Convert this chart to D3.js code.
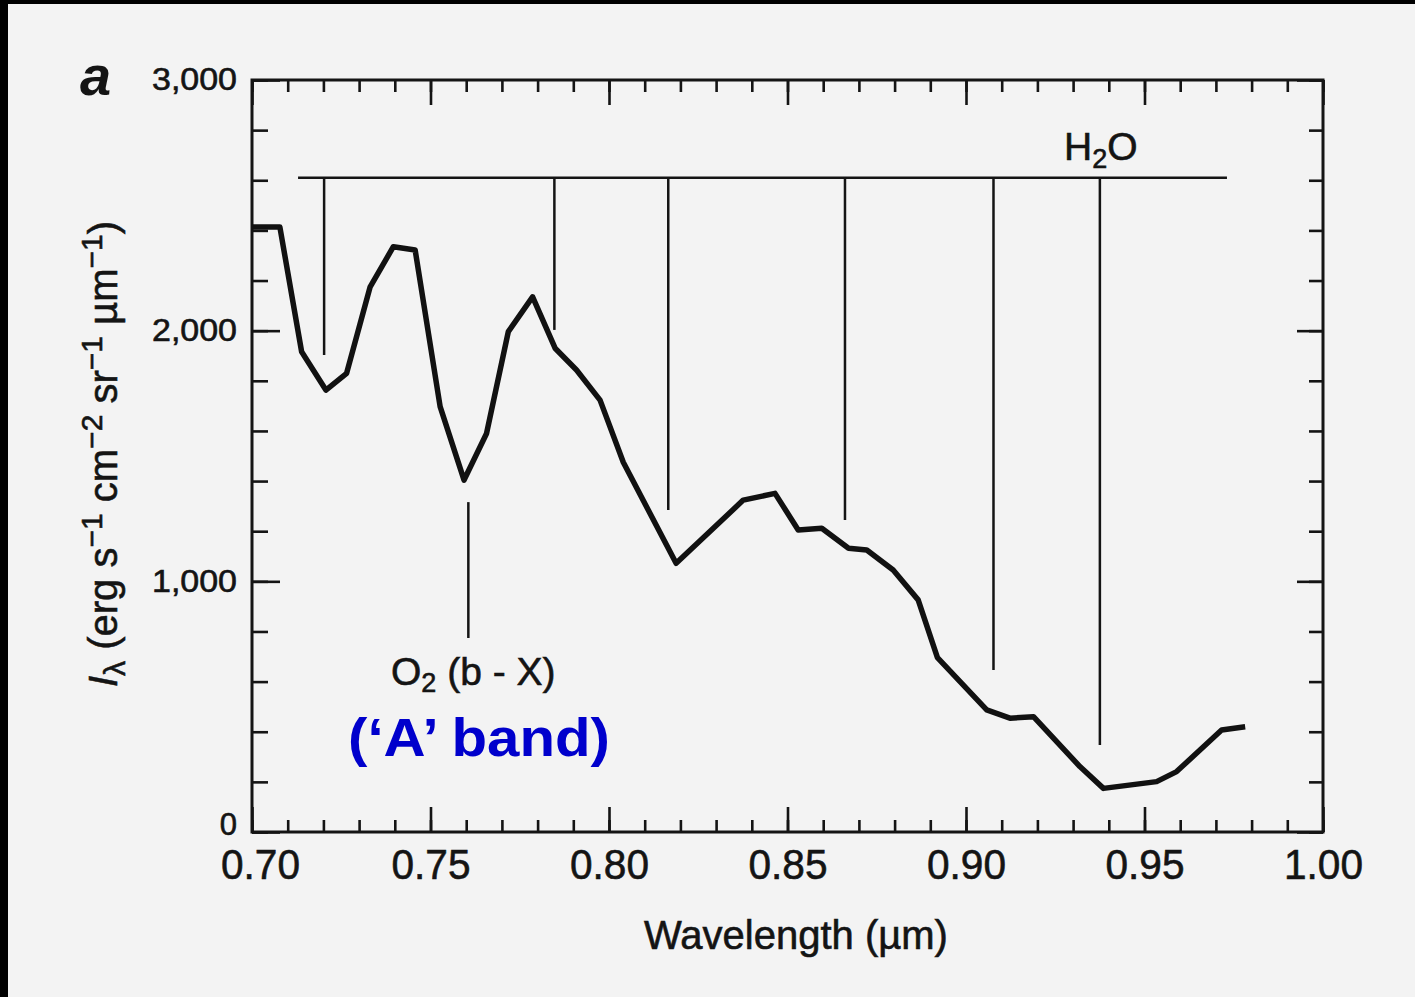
<!DOCTYPE html>
<html>
<head>
<meta charset="utf-8">
<script src="https://cdn.jsdelivr.net/npm/d3@7"></script>
<style>
  html, body { margin: 0; padding: 0; background: #f3f3f3; }
  svg { display: block; }
  text { font-family: "Liberation Sans", Arial, Helvetica, sans-serif; fill: #141414; }
  text.ink { stroke: #141414; stroke-width: 0.6px; }
</style>
</head>
<body>
<svg id="chart" width="1415" height="997"></svg>
<script>
// Spectrum: wavelength (µm) and intensity I_λ (erg s^-1 cm^-2 sr^-1 µm^-1)
const wavelength = [0.700, 0.7078, 0.7139, 0.7207, 0.7265, 0.7331, 0.7396, 0.7457, 0.7527, 0.7594,
                    0.7657, 0.7718, 0.7786, 0.7849, 0.7909, 0.7975, 0.8040, 0.8188, 0.8376, 0.8465,
                    0.8530, 0.8596, 0.8671, 0.8722, 0.8796, 0.8866, 0.8920, 0.9058, 0.9123, 0.9189,
                    0.9319, 0.9385, 0.9534, 0.9590, 0.9716, 0.9782];
const intensity  = [2414, 2414, 1916, 1763, 1830, 2175, 2335, 2322, 1697, 1404,
                    1590, 1996, 2135, 1930, 1843, 1723, 1475, 1072, 1324, 1351,
                    1205, 1212, 1132, 1125, 1045, 926, 696, 487, 454, 460,
                    261, 174, 201, 241, 407, 420];

// H2O absorption band markers
const h2oBandLevel = 2610;
const h2oBarRange = [0.7129, 0.9731];
const h2oBands = [0.7202, 0.7847, 0.8166, 0.8661, 0.9077, 0.9375];
const h2oBandEnds = [1903, 2003, 1285, 1245, 646, 347];

// O2 (b - X) 'A' band marker
const o2Band = 0.7606;
const o2Range = [1316, 774];

// Axis ticks
const xMajorTicks = [0.70, 0.75, 0.80, 0.85, 0.90, 0.95, 1.00];
const xTickLabels = ["0.70", "0.75", "0.80", "0.85", "0.90", "0.95", "1.00"];
const xMinorTicks = d3.range(0, 31).map(i => +(0.70 + i * 0.01).toFixed(2));
const yMajorTicks = [0, 1000, 2000, 3000];
const yTickLabels = ["0", "1,000", "2,000", "3,000"];
const yMinorTicks = d3.range(0, 16).map(i => i * 200);

const svg = d3.select("#chart");
const W = 1415, H = 997;
const plotLeft = 252, plotRight = 1323, plotTop = 80, plotBottom = 832;

// paper and scan edges
svg.append("rect").attr("width", W).attr("height", H).attr("fill", "#f3f3f3");
svg.append("rect").attr("x", 0).attr("y", 0).attr("width", 8).attr("height", H).attr("fill", "#000");
svg.append("rect").attr("x", 0).attr("y", 0).attr("width", W).attr("height", 4).attr("fill", "#000");

const x = d3.scaleLinear().domain([0.70, 1.00]).range([plotLeft, plotRight]);
const y = d3.scaleLinear().domain([0, 3000]).range([plotBottom, plotTop]);

function styleAxis(g) {
  g.select(".domain").remove();
  g.selectAll(".tick line").attr("stroke", "#141414").attr("stroke-width", 2.6);
}

// bottom axis: minor + major (labelled)
svg.append("g").attr("transform", `translate(0,${plotBottom})`)
  .call(d3.axisBottom(x).tickValues(xMinorTicks).tickSize(-12).tickFormat(""))
  .call(styleAxis);
const xb = svg.append("g").attr("transform", `translate(0,${plotBottom})`)
  .call(d3.axisBottom(x).tickValues(xMajorTicks).tickSize(-25).tickPadding(17)
        .tickFormat((d, i) => xTickLabels[i]))
  .call(styleAxis);
xb.selectAll("text").attr("class", "ink").attr("font-size", 42).attr("fill", "#141414")
  .attr("font-family", "Liberation Sans, Arial, sans-serif")
  .attr("textLength", 79).attr("lengthAdjust", "spacingAndGlyphs")
  .attr("dx", (d, i) => i === 0 ? 8 : 0);

// top axis
svg.append("g").attr("transform", `translate(0,${plotTop})`)
  .call(d3.axisTop(x).tickValues(xMinorTicks).tickSize(-12).tickFormat(""))
  .call(styleAxis);
svg.append("g").attr("transform", `translate(0,${plotTop})`)
  .call(d3.axisTop(x).tickValues(xMajorTicks).tickSize(-25).tickFormat(""))
  .call(styleAxis);

// left axis
svg.append("g").attr("transform", `translate(${plotLeft},0)`)
  .call(d3.axisLeft(y).tickValues(yMinorTicks).tickSize(-16).tickFormat(""))
  .call(styleAxis);
const yl = svg.append("g").attr("transform", `translate(${plotLeft},0)`)
  .call(d3.axisLeft(y).tickValues(yMajorTicks).tickSize(-28).tickPadding(15)
        .tickFormat((d, i) => yTickLabels[i]))
  .call(styleAxis);
yl.selectAll("text").attr("class", "ink").attr("font-size", 31).attr("fill", "#141414")
  .attr("font-family", "Liberation Sans, Arial, sans-serif")
  .each(function (d, i) {
    const t = d3.select(this);
    if (yTickLabels[i].length > 1) t.attr("textLength", 85).attr("lengthAdjust", "spacingAndGlyphs");
    else t.attr("y", -7);
  });

// right axis
svg.append("g").attr("transform", `translate(${plotRight},0)`)
  .call(d3.axisRight(y).tickValues(yMinorTicks).tickSize(-14).tickFormat(""))
  .call(styleAxis);
svg.append("g").attr("transform", `translate(${plotRight},0)`)
  .call(d3.axisRight(y).tickValues(yMajorTicks).tickSize(-26).tickFormat(""))
  .call(styleAxis);

// plot frame
svg.append("rect")
  .attr("x", x(0.70)).attr("y", y(3000))
  .attr("width", x(1.00) - x(0.70)).attr("height", y(0) - y(3000))
  .attr("fill", "none").attr("stroke", "#141414").attr("stroke-width", 3);

// H2O band bar and drop lines
const markG = svg.append("g").attr("stroke", "#141414").attr("stroke-width", 2.5);
markG.append("line")
  .attr("x1", x(h2oBarRange[0])).attr("x2", x(h2oBarRange[1]))
  .attr("y1", y(h2oBandLevel)).attr("y2", y(h2oBandLevel));
markG.selectAll("line.band").data(h2oBands).join("line").attr("class", "band")
  .attr("x1", d => x(d)).attr("x2", d => x(d))
  .attr("y1", y(h2oBandLevel)).attr("y2", (d, i) => y(h2oBandEnds[i]));

// O2 marker
markG.append("line")
  .attr("x1", x(o2Band)).attr("x2", x(o2Band))
  .attr("y1", y(o2Range[0])).attr("y2", y(o2Range[1]));

// spectrum curve
const pts = wavelength.map((w, i) => [w, intensity[i]]);
svg.append("path")
  .datum(pts)
  .attr("fill", "none")
  .attr("stroke", "#111")
  .attr("stroke-width", 5.5)
  .attr("stroke-linejoin", "round")
  .attr("d", d3.line().x(d => x(d[0])).y(d => y(d[1])));

// labels
const h2o = svg.append("text").attr("class", "ink").attr("x", 1064).attr("y", 160).attr("font-size", 39);
h2o.append("tspan").text("H");
h2o.append("tspan").attr("font-size", 27).attr("dy", 8).text("2");
h2o.append("tspan").attr("dy", -8).text("O");

const o2 = svg.append("text").attr("class", "ink").attr("x", 391).attr("y", 685).attr("font-size", 39);
o2.append("tspan").text("O");
o2.append("tspan").attr("font-size", 27).attr("dy", 7).text("2");
o2.append("tspan").attr("dy", -7).text(" (b - X)");

svg.append("text")
  .attr("x", 348).attr("y", 756)
  .attr("font-family", "DejaVu Sans, Verdana, sans-serif")
  .attr("font-weight", "bold")
  .attr("font-size", 54)
  .attr("textLength", 262).attr("lengthAdjust", "spacingAndGlyphs")
  .style("fill", "#0000cc")
  .text("(\u2018A\u2019 band)");

// axis titles
svg.append("text").attr("class", "ink")
  .attr("x", 796).attr("y", 949)
  .attr("text-anchor", "middle").attr("font-size", 40)
  .text("Wavelength (\u00b5m)");

const yt = svg.append("text").attr("class", "ink")
  .attr("transform", "translate(117,454) rotate(-90)")
  .attr("text-anchor", "middle").attr("font-size", 40);
yt.append("tspan").attr("font-style", "italic").text("I");
yt.append("tspan").attr("font-size", 30).attr("dy", 8).text("\u03bb");
yt.append("tspan").attr("dy", -8).text(" (erg s");
yt.append("tspan").attr("font-size", 30).attr("dy", -15).text("\u22121");
yt.append("tspan").attr("dy", 15).text(" cm");
yt.append("tspan").attr("font-size", 30).attr("dy", -15).text("\u22122");
yt.append("tspan").attr("dy", 15).text(" sr");
yt.append("tspan").attr("font-size", 30).attr("dy", -15).text("\u22121");
yt.append("tspan").attr("dy", 15).text(" \u00b5m");
yt.append("tspan").attr("font-size", 30).attr("dy", -15).text("\u22121");
yt.append("tspan").attr("dy", 15).text(")");

// panel letter
svg.append("text")
  .attr("x", 80).attr("y", 95)
  .attr("font-family", "Liberation Serif, Times New Roman, serif")
  .attr("font-style", "italic").attr("font-weight", "bold")
  .attr("font-size", 56)
  .text("a");
</script>
</body>
</html>
